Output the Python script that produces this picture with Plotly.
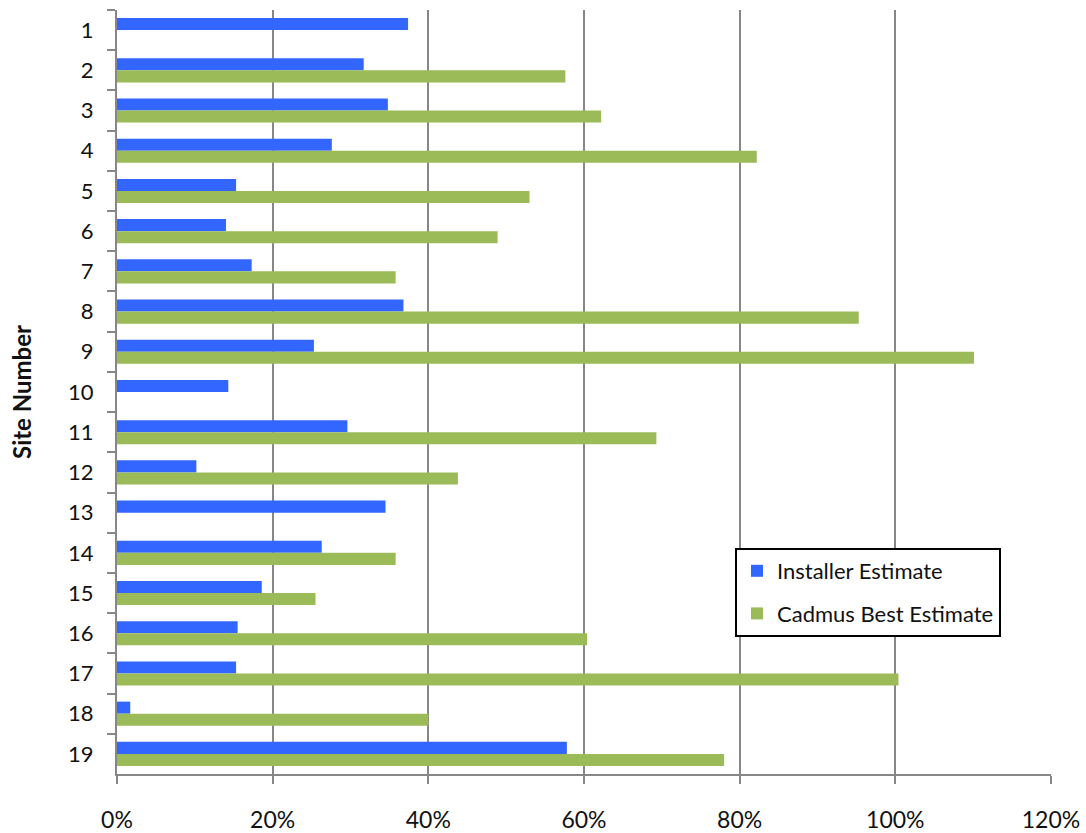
import plotly.graph_objects as go

sites = [str(i) for i in range(1, 20)]
installer = [37.4, 31.7, 34.8, 27.6, 15.3, 14.0, 17.3, 36.8, 25.3, 14.3,
             29.6, 10.2, 34.5, 26.3, 18.6, 15.5, 15.3, 1.7, 57.8]
cadmus = [None, 57.6, 62.2, 82.2, 53.0, 48.9, 35.8, 95.3, 110.1, None,
          69.3, 43.8, None, 35.8, 25.5, 60.4, 100.4, 40.0, 78.0]
series_names = ["Installer Estimate", "Cadmus Best Estimate"]
x_ticks = [0, 20, 40, 60, 80, 100, 120]
x_tick_labels = ["0%", "20%", "40%", "60%", "80%", "100%", "120%"]

fig = go.Figure()
fig.add_trace(go.Bar(y=sites, x=installer, orientation="h", name=series_names[0],
                     marker=dict(color="#3366FF", line=dict(width=0)), legendgroup="a"))
fig.add_trace(go.Bar(y=sites, x=cadmus, orientation="h", name=series_names[1],
                     marker=dict(color="#9BBB59", line=dict(width=0)), legendgroup="b"))

fig.update_layout(
    width=1086, height=833,
    margin=dict(l=117, r=35, t=10, b=59, autoexpand=False),
    paper_bgcolor="white", plot_bgcolor="white",
    font=dict(family="Lato", size=22, color="#111111"),
    barmode="group", bargap=0.4, bargroupgap=0,
    showlegend=True,
    legend=dict(x=(735 - 117) / 934, y=(774 - 548) / 764, xanchor="left", yanchor="top",
                bgcolor="white", bordercolor="black", borderwidth=2,
                font=dict(family="Lato", size=22, color="#111111"),
                tracegroupgap=11, traceorder="grouped"),
)
fig.update_xaxes(range=[0, 120], tickvals=x_ticks, ticktext=x_tick_labels,
                 tickfont=dict(size=23),
                 showgrid=True, gridcolor="#878787", gridwidth=1.5,
                 showline=True, linecolor="#878787", linewidth=2,
                 ticks="outside", ticklen=8, tickcolor="#878787", tickwidth=1.5,
                 zeroline=False, ticklabelstandoff=16, automargin=False)
fig.update_yaxes(type="category", categoryorder="array", categoryarray=sites,
                 autorange="reversed", showgrid=False,
                 showline=True, linecolor="#878787", linewidth=2,
                 ticks="outside", ticklen=8, tickcolor="#878787", tickwidth=1.5,
                 tickson="boundaries", ticklabelstandoff=17, automargin=False,
                 title=dict(text="<b>Site Number</b>", standoff=30,
                            font=dict(family="Lato", size=24, color="#111111")))

fig.write_html("out.html")
